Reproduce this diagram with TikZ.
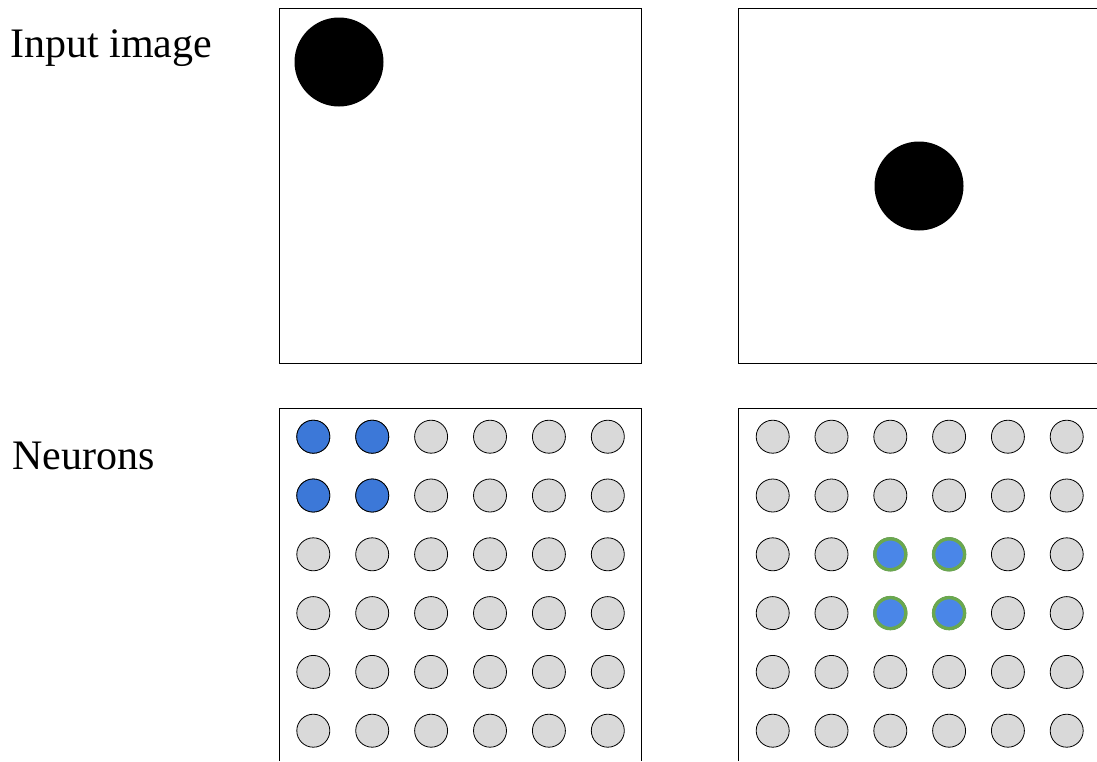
\documentclass[tikz,border=0pt]{standalone}
\usepackage{fontspec}
\setmainfont{Liberation Serif}
\definecolor{cellgray}{HTML}{D9D9D9}
\definecolor{hitblue}{HTML}{3C78D8}
\definecolor{winblue}{HTML}{4A86E8}
\definecolor{wingreen}{HTML}{6AA84F}
\begin{document}
\begin{tikzpicture}[x=1pt, y=-1pt,
    every node/.style={font=\fontsize{42}{50}\selectfont},
    frame/.style={draw=black, line width=0.9pt},
    neuron/.style={circle, draw=black, line width=0.8pt, fill=cellgray, minimum size=33pt, inner sep=0pt},
    hit/.style={neuron, fill=hitblue},
    winner/.style={neuron, fill=winblue, draw=wingreen, line width=3.4pt, minimum size=31pt}]
    \useasboundingbox (0,0) rectangle (1097,761);
    % labels
    \node[anchor=base west, inner sep=0pt] (lbl-in) at (10,57) {Input image};
    \node[anchor=base west, inner sep=0pt] (lbl-nr) at (12,469) {Neurons};
    % input images
    \draw[frame] (279,8) rectangle (641,363);
    \draw[frame] (1097,8) -- (738,8) -- (738,363) -- (1097,363);
    \fill[black] (339,62) circle (44.5);
    \fill[black] (919,186) circle (44.5);
    % neuron grids
    \draw[frame] (279,761) -- (279,408) -- (641,408) -- (641,761);
    \draw[frame] (738,761) -- (738,408) -- (1097,408);
    \foreach \r in {1,...,6} {
        \foreach \c in {1,...,6} {
            \node[neuron] (a-\r-\c) at ({313.3+58.9*(\c-1)},{436.7+58.8*(\r-1)}) {};
            \node[neuron] (b-\r-\c) at ({772.7+58.8*(\c-1)},{436.7+58.8*(\r-1)}) {};
        }
    }
    \foreach \r/\c in {1/1,1/2,2/1,2/2}
        \node[hit] at (a-\r-\c) {};
    \foreach \r/\c in {3/3,3/4,4/3,4/4}
        \node[winner] at (b-\r-\c) {};
\end{tikzpicture}
\end{document}
